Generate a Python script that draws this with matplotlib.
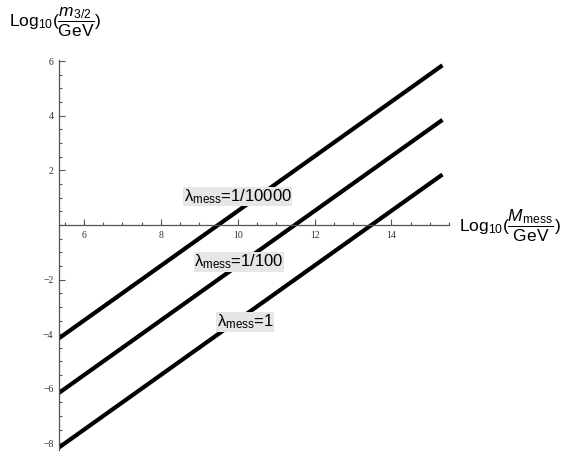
import matplotlib
matplotlib.use("Agg")
import matplotlib.pyplot as plt
from matplotlib.ticker import MultipleLocator

plt.rcParams['mathtext.fontset'] = 'custom'
plt.rcParams['mathtext.rm'] = 'Liberation Sans'
plt.rcParams['mathtext.it'] = 'Liberation Sans:italic'
plt.rcParams['font.family'] = ['Liberation Sans', 'DejaVu Sans']

# data: endpoints of straight lines (log10 M_mess, log10 m_3/2)
x_ends = [5.35, 15.33]
lam_labels = ["\u03bb$_{\\rm mess}$=1/10000", "\u03bb$_{\\rm mess}$=1/100", "\u03bb$_{\\rm mess}$=1"]
y_ends = {
    "1/10000": [-4.15, 5.85],
    "1/100": [-6.15, 3.85],
    "1": [-8.15, 1.85],
}
label_pos = [(10.0, 1.05), (10.03, -1.36), (10.19, -3.55)]
x_ticks = [6, 8, 10, 12, 14]
y_ticks = [-8, -6, -4, -2, 2, 4, 6]
y_tick_labels = ['\u22128', '\u22126', '\u22124', '\u22122', '2', '4', '6']

fig = plt.figure(figsize=(5.65, 4.54), dpi=100)
ax = fig.add_axes([59/565, (454-450.2)/454, 390/565, 390.4/454])
ax.set_xlim(5.35, 15.5)
ax.set_ylim(-8.25, 6.05)

for key in y_ends:
    ax.plot(x_ends, y_ends[key], color='black', lw=3.0, solid_capstyle='butt')

for txt, (px, py) in zip(lam_labels, label_pos):
    ax.text(px, py, txt, fontsize=12, ha='center', va='center',
            bbox=dict(facecolor='#e6e6e6', edgecolor='none', pad=0.3))

ax.spines['top'].set_visible(False)
ax.spines['right'].set_visible(False)
ax.spines['bottom'].set_position(('data', 0))
for s in ['left', 'bottom']:
    ax.spines[s].set_color('#555555')
    ax.spines[s].set_linewidth(0.9)

ax.set_xticks(x_ticks)
ax.set_yticks(y_ticks)
ax.xaxis.set_minor_locator(MultipleLocator(0.5))
ax.yaxis.set_minor_locator(MultipleLocator(0.5))
ax.tick_params(which='both', direction='in', color='#555555', width=0.8,
               labelsize=7, labelcolor='#333333')
ax.tick_params(which='major', length=4, pad=4)
ax.tick_params(which='minor', length=2.2)
ax.set_yticklabels(y_tick_labels)
ax.set_xticklabels([str(t) for t in x_ticks])
for lab in ax.get_xticklabels() + ax.get_yticklabels():
    lab.set_fontfamily(['Liberation Serif', 'DejaVu Serif'])

fig.text(9/565, 1-22/454, r"Log$_{10}$($\dfrac{m_{3/2}}{\rm GeV}$)", fontsize=12.5,
         ha='left', va='center')
fig.text(459/565, 1-226/454, r"Log$_{10}$($\dfrac{M_{\rm mess}}{\rm GeV}$)", fontsize=12.5,
         ha='left', va='center')

fig.savefig("out.png", dpi=100)
